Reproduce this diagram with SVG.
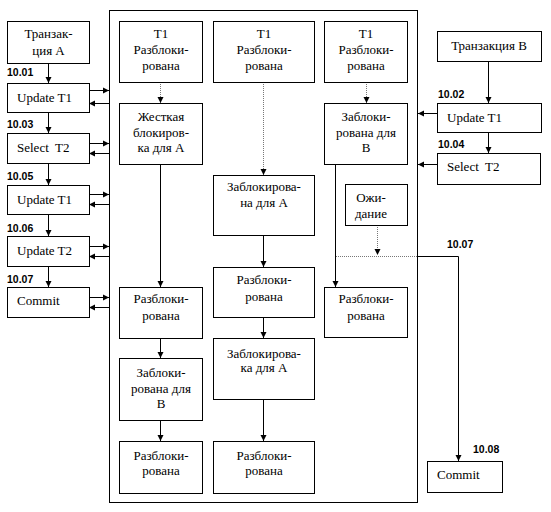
<svg xmlns="http://www.w3.org/2000/svg" width="551" height="512" viewBox="0 0 551 512">
<defs>
<marker id="ah" markerWidth="7" markerHeight="7" refX="6" refY="3.5" orient="auto" markerUnits="userSpaceOnUse">
<path d="M0,0.5 L6,3.5 L0,6.5 z" fill="#000"/>
</marker>
</defs>
<style>
.box{fill:#fff;stroke:#000;stroke-width:1}
.t{font-family:'Liberation Serif','Times New Roman','DejaVu Serif',serif;font-size:13px;fill:#000}
.c{text-anchor:middle}
.lb{font-family:'Liberation Sans',Arial,sans-serif;font-size:10.5px;font-weight:bold;fill:#000}
.ln{stroke:#000;stroke-width:1;fill:none}
.dt{stroke:#777;stroke-width:1;stroke-dasharray:1,1;fill:none}
</style>
<rect width="551" height="512" fill="#fff"/>
<g id="outer"><rect class="box" x="109.5" y="10.5" width="308" height="492"/></g>

<g id="connectors">
<line class="ln" x1="48.5" y1="63" x2="48.5" y2="83" marker-end="url(#ah)"/>
<line class="ln" x1="48.5" y1="112" x2="48.5" y2="133" marker-end="url(#ah)"/>
<line class="ln" x1="48.5" y1="163" x2="48.5" y2="185" marker-end="url(#ah)"/>
<line class="ln" x1="48.5" y1="214" x2="48.5" y2="236" marker-end="url(#ah)"/>
<line class="ln" x1="48.5" y1="266" x2="48.5" y2="287" marker-end="url(#ah)"/>
<line class="ln" x1="89" y1="90.5" x2="109" y2="90.5" marker-end="url(#ah)"/>
<line class="ln" x1="109" y1="103.5" x2="89" y2="103.5" marker-end="url(#ah)"/>
<line class="ln" x1="89" y1="143.5" x2="109" y2="143.5" marker-end="url(#ah)"/>
<line class="ln" x1="109" y1="153.5" x2="89" y2="153.5" marker-end="url(#ah)"/>
<line class="ln" x1="89" y1="194.5" x2="109" y2="194.5" marker-end="url(#ah)"/>
<line class="ln" x1="109" y1="204.5" x2="89" y2="204.5" marker-end="url(#ah)"/>
<line class="ln" x1="89" y1="246.5" x2="109" y2="246.5" marker-end="url(#ah)"/>
<line class="ln" x1="109" y1="256.5" x2="89" y2="256.5" marker-end="url(#ah)"/>
<line class="ln" x1="89" y1="297.5" x2="109" y2="297.5" marker-end="url(#ah)"/>
<line class="ln" x1="109" y1="307.5" x2="89" y2="307.5" marker-end="url(#ah)"/>
<line class="dt" x1="160.5" y1="82" x2="160.5" y2="103" marker-end="url(#ah)"/>
<line class="ln" x1="160.5" y1="164" x2="160.5" y2="287" marker-end="url(#ah)"/>
<line class="ln" x1="160.5" y1="338" x2="160.5" y2="358" marker-end="url(#ah)"/>
<line class="ln" x1="160.5" y1="420" x2="160.5" y2="441" marker-end="url(#ah)"/>
<line class="dt" x1="263.5" y1="82" x2="263.5" y2="175" marker-end="url(#ah)"/>
<line class="ln" x1="263.5" y1="235" x2="263.5" y2="267" marker-end="url(#ah)"/>
<line class="ln" x1="263.5" y1="317" x2="263.5" y2="338" marker-end="url(#ah)"/>
<line class="ln" x1="263.5" y1="399" x2="263.5" y2="441" marker-end="url(#ah)"/>
<line class="dt" x1="366.5" y1="82" x2="366.5" y2="103" marker-end="url(#ah)"/>
<line class="ln" x1="335.5" y1="164" x2="335.5" y2="287" marker-end="url(#ah)"/>
<line class="dt" x1="377.5" y1="225" x2="377.5" y2="255" marker-end="url(#ah)"/>
<line class="dt" x1="336" y1="256.5" x2="417" y2="256.5"/>
<polyline class="ln" points="417,256.5 458.5,256.5 458.5,461" marker-end="url(#ah)"/>
<line class="ln" x1="488.5" y1="61" x2="488.5" y2="103" marker-end="url(#ah)"/>
<line class="ln" x1="488.5" y1="132" x2="488.5" y2="153" marker-end="url(#ah)"/>
<line class="ln" x1="437" y1="113.5" x2="418" y2="113.5" marker-end="url(#ah)"/>
<line class="ln" x1="437" y1="164.5" x2="418" y2="164.5" marker-end="url(#ah)"/>
</g>

<g id="tA"><rect class="box" x="7.5" y="21.5" width="82" height="42"/>
<text class="t c" x="48.5" y="38">Транзак-</text><text class="t c" x="48.5" y="55">ция  А</text></g>
<g id="a1"><rect class="box" x="7.5" y="83.5" width="82" height="29"/><text class="t" x="17" y="102">Update T1</text></g>
<g id="a2"><rect class="box" x="7.5" y="133.5" width="82" height="30"/><text class="t" x="17" y="152" xml:space="preserve">Select  T2</text></g>
<g id="a3"><rect class="box" x="7.5" y="185.5" width="82" height="29"/><text class="t" x="17" y="204">Update T1</text></g>
<g id="a4"><rect class="box" x="7.5" y="236.5" width="82" height="30"/><text class="t" x="17" y="255">Update T2</text></g>
<g id="a5"><rect class="box" x="7.5" y="287.5" width="82" height="30"/><text class="t" x="17" y="305">Commit</text></g>
<g id="labelsA">
<text class="lb" x="7" y="76">10.01</text>
<text class="lb" x="7" y="128">10.03</text>
<text class="lb" x="7" y="180">10.05</text>
<text class="lb" x="7" y="232">10.06</text>
<text class="lb" x="7" y="283">10.07</text>
</g>

<g id="c1a"><rect class="box" x="119.5" y="21.5" width="83" height="61"/>
<text class="t c" x="161" y="38">T1</text><text class="t c" x="161" y="54">Разблоки-</text><text class="t c" x="161" y="70">рована</text></g>
<g id="c1b"><rect class="box" x="119.5" y="103.5" width="83" height="61"/>
<text class="t c" x="161" y="121">Жесткая</text><text class="t c" x="161" y="137">блокиров-</text><text class="t c" x="161" y="152">ка для А</text></g>
<g id="c1c"><rect class="box" x="119.5" y="287.5" width="83" height="51"/>
<text class="t c" x="161" y="303">Разблоки-</text><text class="t c" x="161" y="320">рована</text></g>
<g id="c1d"><rect class="box" x="119.5" y="358.5" width="83" height="62"/>
<text class="t c" x="161" y="377">Заблоки-</text><text class="t c" x="161" y="393">рована для</text><text class="t c" x="161" y="408">В</text></g>
<g id="c1e"><rect class="box" x="119.5" y="441.5" width="83" height="52"/>
<text class="t c" x="161" y="460">Разблоки-</text><text class="t c" x="161" y="475">рована</text></g>

<g id="c2a"><rect class="box" x="213.5" y="21.5" width="101" height="61"/>
<text class="t c" x="264" y="38">T1</text><text class="t c" x="264" y="54">Разблоки-</text><text class="t c" x="264" y="70">рована</text></g>
<g id="c2b"><rect class="box" x="213.5" y="175.5" width="101" height="60"/>
<text class="t c" x="264" y="191">Заблокирова-</text><text class="t c" x="264" y="207">на для А</text></g>
<g id="c2c"><rect class="box" x="213.5" y="267.5" width="101" height="50"/>
<text class="t c" x="264" y="284">Разблоки-</text><text class="t c" x="264" y="301">рована</text></g>
<g id="c2d"><rect class="box" x="213.5" y="338.5" width="101" height="61"/>
<text class="t c" x="264" y="358">Заблокирова-</text><text class="t c" x="264" y="372">ка для А</text></g>
<g id="c2e"><rect class="box" x="213.5" y="441.5" width="101" height="52"/>
<text class="t c" x="264" y="460">Разблоки-</text><text class="t c" x="264" y="475">рована</text></g>

<g id="c3a"><rect class="box" x="324.5" y="21.5" width="83" height="61"/>
<text class="t c" x="366" y="38">T1</text><text class="t c" x="366" y="54">Разблоки-</text><text class="t c" x="366" y="70">рована</text></g>
<g id="c3b"><rect class="box" x="324.5" y="103.5" width="83" height="61"/>
<text class="t c" x="366" y="121">Заблоки-</text><text class="t c" x="366" y="137">рована для</text><text class="t c" x="366" y="152">В</text></g>
<g id="c3w"><rect class="box" x="345.5" y="184.5" width="62" height="41"/>
<text class="t c" x="371" y="202">Ожи-</text><text class="t c" x="371" y="218">дание</text></g>
<g id="c3c"><rect class="box" x="324.5" y="287.5" width="83" height="50"/>
<text class="t c" x="366" y="303">Разблоки-</text><text class="t c" x="366" y="320">рована</text></g>

<g id="tB"><rect class="box" x="437.5" y="31.5" width="104" height="30"/><text class="t c" x="489" y="50">Транзакция В</text></g>
<g id="b1"><rect class="box" x="437.5" y="103.5" width="104" height="29"/><text class="t" x="447" y="122">Update T1</text></g>
<g id="b2"><rect class="box" x="437.5" y="153.5" width="103" height="31"/><text class="t" x="447" y="171" xml:space="preserve">Select  T2</text></g>
<g id="bc"><rect class="box" x="427.5" y="461.5" width="75" height="31"/><text class="t" x="437" y="479">Commit</text></g>
<g id="labelsB">
<text class="lb" x="438" y="98">10.02</text>
<text class="lb" x="438" y="148">10.04</text>
<text class="lb" x="447" y="248">10.07</text>
<text class="lb" x="473" y="453">10.08</text>
</g>
</svg>
